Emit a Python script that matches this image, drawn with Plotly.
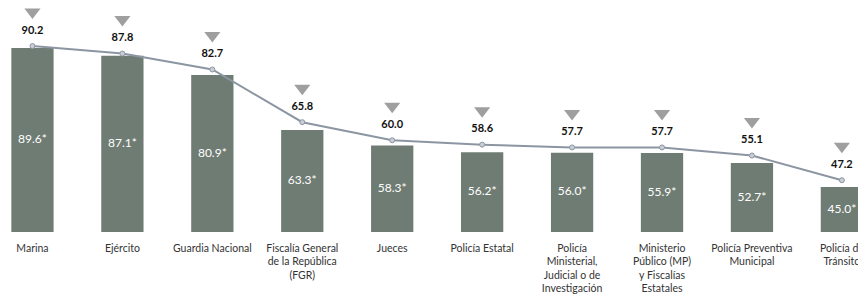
import plotly.graph_objects as go

categories = ["Marina", "Ejército", "Guardia Nacional",
              "Fiscalía General<br>de la República<br>(FGR)", "Jueces",
              "Policía Estatal",
              "Policía<br>Ministerial,<br>Judicial o de<br>Investigación",
              "Ministerio<br>Público (MP)<br>y Fiscalías<br>Estatales",
              "Policía Preventiva<br>Municipal", "Policía de<br>Tránsito"]
bar_values = [89.6, 87.1, 80.9, 63.3, 58.3, 56.2, 56.0, 55.9, 52.7, 45.0]
line_values = [90.2, 87.8, 82.7, 65.8, 60.0, 58.6, 57.7, 57.7, 55.1, 47.2]

x = list(range(len(categories)))
bar_text = [f"{v:.1f}*" for v in bar_values]
line_text = [f"{v:.1f}" for v in line_values]

Y_MIN, Y_MAX = 30.6, 102.4
LABEL_OFF = 4.8    # value units (~15px)
TRI_OFF = 10.9     # value units (~34px)

fig = go.Figure()
fig.add_trace(go.Bar(
    x=x, y=bar_values, width=0.47,
    marker=dict(color="#6f7c73", line=dict(width=0)),
))
# labels centred in the visible part of each bar
fig.add_trace(go.Scatter(
    x=x, y=[(v + Y_MIN) / 2 for v in bar_values], mode="text",
    text=bar_text, textposition="middle center",
    textfont=dict(family="Lato", size=12, color="white"),
))
fig.add_trace(go.Scatter(
    x=x, y=line_values, mode="lines+markers",
    line=dict(color="#8c96a3", width=2),
    marker=dict(size=5, color="#c9ced6", line=dict(color="#8c96a3", width=1)),
))
fig.add_trace(go.Scatter(
    x=x, y=[v + LABEL_OFF for v in line_values], mode="text",
    text=line_text, textposition="middle center",
    textfont=dict(family="Lato", size=11, color="#111111", weight="bold"),
    cliponaxis=False,
))
fig.add_trace(go.Scatter(
    x=x, y=[v + TRI_OFF for v in line_values], mode="markers",
    marker=dict(symbol="triangle-down", size=14, color="#9f9f9f"),
    cliponaxis=False,
))

fig.update_layout(
    width=866, height=302,
    margin=dict(l=0, r=0, t=0, b=78, autoexpand=False),
    paper_bgcolor="white", plot_bgcolor="white",
    showlegend=False, bargap=0.5,
    font=dict(family="Lato", color="#333333"),
)
fig.update_xaxes(
    tickmode="array", tickvals=x, ticktext=categories,
    range=[-0.272, 9.357], showgrid=False, zeroline=False, showline=False,
    tickfont=dict(family="Lato", size=10.5, color="#333333"),
    ticklabelstandoff=8, automargin=False,
)
fig.update_yaxes(range=[Y_MIN, Y_MAX], visible=False, showgrid=False,
                 automargin=False)

fig.write_html("out.html")
